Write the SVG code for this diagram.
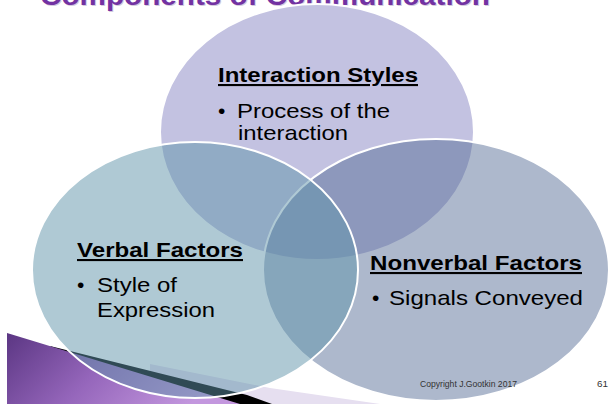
<svg xmlns="http://www.w3.org/2000/svg" width="610" height="404" viewBox="0 0 610 404">
<defs>
<linearGradient id="purpleGrad" x1="0" y1="0" x2="1" y2="0.3">
<stop offset="0" stop-color="#5b3683"/>
<stop offset="0.5" stop-color="#9566bb"/>
<stop offset="1" stop-color="#c397de"/>
</linearGradient>
</defs>
<style>
.title{font-family:"Liberation Sans",Arial,sans-serif;font-weight:bold;font-size:27px;fill:#7232a2}
.shadow{font-family:"Liberation Sans",Arial,sans-serif;font-weight:bold;font-size:27px;fill:#b8a8c8;opacity:0.6}
.head{font-family:"Liberation Sans",Arial,sans-serif;font-weight:bold;font-size:21px;fill:#000;text-decoration:underline}
.body{font-family:"Liberation Sans",Arial,sans-serif;font-size:21px;fill:#000}
.small{font-family:"Liberation Sans",Arial,sans-serif;font-size:9.5px;fill:#333}
.circle{stroke:#ffffff;stroke-width:2}
</style>
<rect width="610" height="404" fill="#ffffff"/>
<g id="decoration">
<polygon points="150,364 270,388 380,404 150,404" fill="#e6dff0"/>
<polygon points="50,346 247,395 272,404 100,404" fill="#000000"/>
<polygon points="7,333 240,404 7,404" fill="url(#purpleGrad)"/>
</g>
<g id="title">
<text class="shadow" x="41" y="6" textLength="450" lengthAdjust="spacingAndGlyphs">Components of Communication</text>
<text class="title" x="40" y="5" textLength="450" lengthAdjust="spacingAndGlyphs">Components of Communication</text>
</g>
<g id="interaction-styles">
<ellipse class="circle" cx="317" cy="132" rx="157" ry="128" fill="#c3c2e1"/>
<text class="head" x="218" y="82" textLength="200" lengthAdjust="spacingAndGlyphs">Interaction Styles</text>
<text class="body" x="218" y="118">•</text>
<text class="body" x="237" y="118" textLength="153" lengthAdjust="spacingAndGlyphs">Process of the</text>
<text class="body" x="238" y="140" textLength="110" lengthAdjust="spacingAndGlyphs">interaction</text>
</g>
<g id="nonverbal-factors">
<ellipse class="circle" cx="436" cy="270" rx="173" ry="131" fill="rgb(81,104,147)" fill-opacity="0.47"/>
<text class="head" x="370" y="270" textLength="212" lengthAdjust="spacingAndGlyphs">Nonverbal Factors</text>
<text class="body" x="372" y="305">•</text>
<text class="body" x="389" y="305" textLength="194" lengthAdjust="spacingAndGlyphs">Signals Conveyed</text>
</g>
<g id="verbal-factors">
<ellipse class="circle" cx="195" cy="270" rx="163" ry="128" fill="rgb(96,148,170)" fill-opacity="0.5"/>
<text class="head" x="77" y="257" textLength="166" lengthAdjust="spacingAndGlyphs">Verbal Factors</text>
<text class="body" x="77" y="292">•</text>
<text class="body" x="97" y="292" textLength="80" lengthAdjust="spacingAndGlyphs">Style of</text>
<text class="body" x="97" y="317" textLength="118" lengthAdjust="spacingAndGlyphs">Expression</text>
</g>
<g id="connectors"></g>
<g id="footer">
<text class="small" x="420" y="387" textLength="97" lengthAdjust="spacingAndGlyphs">Copyright J.Gootkin 2017</text>
<text class="small" x="597" y="387" textLength="11" lengthAdjust="spacingAndGlyphs">61</text>
</g>
</svg>
